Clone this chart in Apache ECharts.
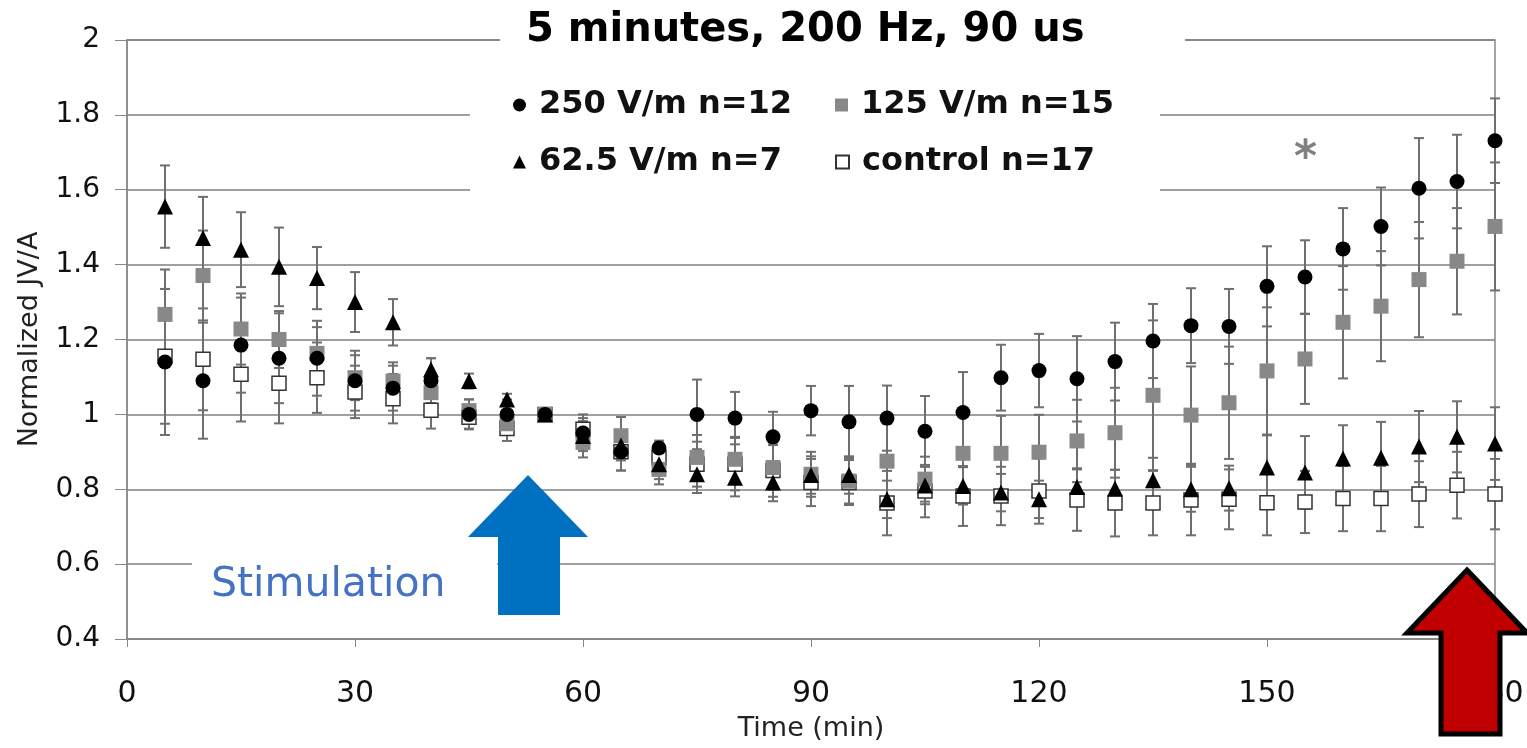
<!DOCTYPE html>
<html><head><meta charset="utf-8">
<script src="https://cdn.jsdelivr.net/npm/echarts@6/dist/echarts.min.js"></script>
<style>html,body{margin:0;padding:0;background:#fff}#c{width:1527px;height:748px}</style>
</head><body><div id="c"></div>
<script>
const times = [5,10,15,20,25,30,35,40,45,50,55,60,65,70,75,80,85,90,95,100,105,110,115,120,125,130,135,140,145,150,155,160,165,170,175,180];
const v250 = [1.14,1.09,1.185,1.15,1.15,1.09,1.07,1.09,1.0,1.0,1.0,0.95,0.90,0.91,1.0,0.99,0.94,1.01,0.98,0.99,0.955,1.005,1.098,1.117,1.095,1.141,1.196,1.237,1.235,1.342,1.367,1.442,1.502,1.604,1.622,1.731];
const e250 = [0.195,0.155,0.127,0.12,0.1,0.08,0.06,0.06,0.04,0.04,0,0.04,0.05,0.02,0.093,0.07,0.067,0.066,0.096,0.087,0.094,0.108,0.088,0.098,0.114,0.104,0.099,0.1,0.1,0.107,0.098,0.109,0.104,0.134,0.125,0.113];
const v125 = [1.267,1.371,1.228,1.2,1.163,1.098,1.089,1.058,1.01,0.975,1.0,0.925,0.943,0.853,0.885,0.88,0.858,0.84,0.822,0.875,0.827,0.896,0.896,0.899,0.929,0.951,1.051,0.998,1.031,1.116,1.148,1.246,1.289,1.36,1.409,1.502];
const e125 = [0.12,0.12,0.095,0.076,0.07,0.06,0.05,0.04,0.03,0.03,0,0.04,0.05,0.04,0.06,0.06,0.06,0.06,0.06,0.1,0.06,0.1,0.1,0.1,0.11,0.12,0.2,0.13,0.15,0.17,0.12,0.15,0.147,0.154,0.142,0.171];
const v62 = [1.555,1.471,1.44,1.394,1.364,1.3,1.246,1.12,1.089,1.04,1.0,0.942,0.917,0.867,0.84,0.831,0.818,0.838,0.838,0.773,0.81,0.809,0.791,0.773,0.806,0.802,0.824,0.8,0.803,0.858,0.845,0.882,0.884,0.914,0.94,0.922];
const e62 = [0.11,0.11,0.1,0.105,0.083,0.08,0.062,0.03,0.02,0.015,0,0.04,0.04,0.04,0.05,0.05,0.05,0.05,0.05,0.05,0.05,0.05,0.05,0.05,0.05,0.05,0.06,0.06,0.06,0.086,0.097,0.089,0.096,0.095,0.095,0.097];
const vCtl = [1.155,1.147,1.107,1.083,1.098,1.06,1.042,1.011,0.992,0.962,1.0,0.96,0.9,0.885,0.867,0.867,0.85,0.818,0.818,0.763,0.795,0.782,0.782,0.795,0.771,0.763,0.763,0.771,0.773,0.764,0.766,0.775,0.775,0.787,0.811,0.787];
const eCtl = [0.18,0.136,0.126,0.107,0.094,0.07,0.066,0.049,0.03,0.033,0,0.04,0.05,0.04,0.06,0.07,0.07,0.063,0.06,0.086,0.07,0.08,0.078,0.087,0.082,0.089,0.086,0.094,0.08,0.087,0.083,0.087,0.087,0.088,0.089,0.094];
const seriesNames = ['250 V/m n=12','125 V/m n=15','62.5 V/m n=7','control n=17'];
const titleText = '5 minutes, 200 Hz, 90 us';
const annotationText = 'Stimulation';
const starText = '*';

const FONT = '"DejaVu Sans", "Liberation Sans", sans-serif';
function pts(v){ return times.map((t,i)=>[t,v[i]]); }
function bars(v,e){ const out=[]; times.forEach((t,i)=>{ if(e[i]>0) out.push([t,v[i]-e[i],v[i]+e[i]]); }); return out; }
function errSeries(v,e){
  return {type:'custom', z:2, silent:true, data:bars(v,e), encode:{x:0,y:[1,2]},
    renderItem:function(params, api){
      const x=api.value(0), lo=api.value(1), hi=api.value(2);
      const a=api.coord([x,hi]), b=api.coord([x,lo]); const w=5;
      const st={stroke:'#6f6f6f', lineWidth:2};
      return {type:'group', children:[
        {type:'line', shape:{x1:a[0],y1:a[1],x2:b[0],y2:b[1]}, style:st},
        {type:'line', shape:{x1:a[0]-w,y1:a[1],x2:a[0]+w,y2:a[1]}, style:st},
        {type:'line', shape:{x1:b[0]-w,y1:b[1],x2:b[0]+w,y2:b[1]}, style:st}
      ]};
    }};
}
const chart = echarts.init(document.getElementById('c'));
const legTxt = {fontSize:32, fontWeight:'bold', color:'#111', fontFamily:FONT, padding:[0,0,0,8]};
function leg(name,left,top){ return {data:[name], left:left, top:top, itemWidth:13, itemHeight:13, textStyle:legTxt, selectedMode:false, z:5}; }
chart.setOption({
  animation:false,
  backgroundColor:'#fff',
  grid:{left:127, right:32, top:40, bottom:109, containLabel:false, outerBoundsMode:'none', show:true, borderColor:'#888', borderWidth:1.5, backgroundColor:'transparent'},
  title:{text:titleText, left:521, top:6, textStyle:{fontSize:40, fontWeight:'bold', color:'#000', fontFamily:FONT}, z:6},
  legend:[leg(seriesNames[0],508,84), leg(seriesNames[1],830,84), leg(seriesNames[2],508,141), leg(seriesNames[3],830,141)],
  xAxis:{type:'value', min:0, max:180, interval:30,
    name:'Time (min)', nameLocation:'middle', nameGap:76, nameTextStyle:{fontSize:27, color:'#222', fontFamily:FONT},
    axisLine:{show:true, lineStyle:{color:'#888', width:1.5}}, axisTick:{show:true, length:8, lineStyle:{color:'#888'}},
    axisLabel:{fontSize:30, color:'#111', fontFamily:FONT, margin:40, formatter:v=>String(v)},
    splitLine:{show:false}},
  yAxis:{type:'value', min:0.4, max:2, interval:0.2,
    name:'Normalized JV/A', nameLocation:'middle', nameGap:84, nameRotate:90, nameTextStyle:{fontSize:27, color:'#222', fontFamily:FONT},
    axisLine:{show:true, lineStyle:{color:'#888', width:1.5}}, axisTick:{show:true, length:12, lineStyle:{color:'#888'}},
    axisLabel:{fontSize:28, color:'#111', fontFamily:FONT, margin:27, formatter:v=>String(Math.round(v*10)/10)},
    splitLine:{show:true, lineStyle:{color:'#808080', width:1.5}}},
  graphic:[
    {type:'rect', z:1, shape:{x:500,y:24,width:685,height:32}, style:{fill:'#fff'}},
    {type:'rect', z:1, shape:{x:470,y:72,width:690,height:128}, style:{fill:'#fff'}},
    {type:'rect', z:1, shape:{x:192,y:540,width:305,height:50}, style:{fill:'#fff'}},
    {type:'text', z:10, x:211, y:585, style:{text:annotationText, font:'41px '+FONT, fill:'#4472C4', textVerticalAlign:'middle'}},
    {type:'text', z:10, x:1294, y:138, style:{text:starText, font:'bold 44px '+FONT, fill:'#808080'}},
    {type:'polygon', z:10, shape:{points:[[528,475],[588,537],[560,537],[560,615],[498,615],[498,537],[468,537]]}, style:{fill:'#0070C0'}},
    {type:'polygon', z:10, shape:{points:[[1467,570],[1527,633],[1500,633],[1500,734],[1441,734],[1441,633],[1407,633]]}, style:{fill:'#C00000', stroke:'#000', lineWidth:5, lineJoin:'miter'}}
  ],
  series:[
    errSeries(vCtl,eCtl), errSeries(v125,e125), errSeries(v62,e62), errSeries(v250,e250),
    {name:seriesNames[3], type:'scatter', z:3, data:pts(vCtl), symbol:'rect', symbolSize:14, itemStyle:{color:'#fff', borderColor:'#333', borderWidth:1.5, opacity:1}},
    {name:seriesNames[1], type:'scatter', z:3, data:pts(v125), symbol:'rect', symbolSize:15, itemStyle:{color:'#888888', opacity:1}},
    {name:seriesNames[2], type:'scatter', z:3, data:pts(v62), symbol:'triangle', symbolSize:16, itemStyle:{color:'#000', opacity:1}},
    {name:seriesNames[0], type:'scatter', z:3, data:pts(v250), symbol:'circle', symbolSize:15, itemStyle:{color:'#000', opacity:1}}
  ]
});
</script></body></html>
